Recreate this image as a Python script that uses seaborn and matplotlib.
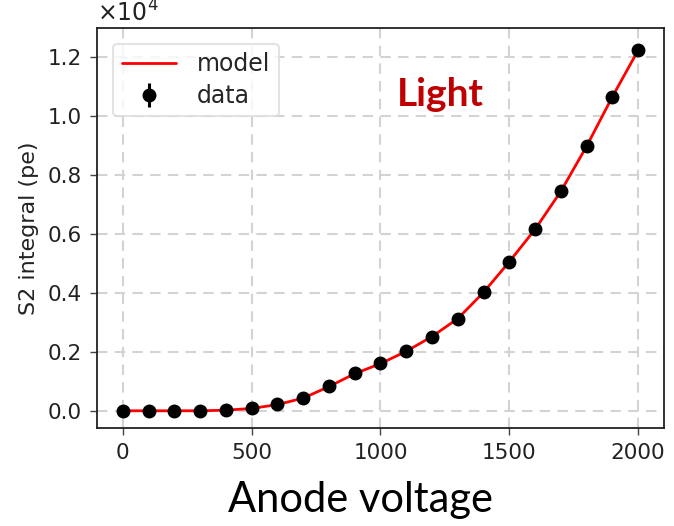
import numpy as np
import pandas as pd
import matplotlib
matplotlib.use("Agg")
import matplotlib.pyplot as plt
import seaborn as sns

# Anode voltage scan (V) and measured S2 integral (pe)
voltage = [0, 100, 200, 300, 400, 500, 600, 700, 800, 900, 1000,
           1100, 1200, 1300, 1400, 1500, 1600, 1700, 1800, 1900, 2000]
s2_data = [0, 5, 0, 0, 10, 90, 220, 440, 830, 1270, 1610,
           2030, 2520, 3120, 4030, 5060, 6160, 7450, 8980, 10670, 12250]
s2_err = [5, 5, 5, 5, 5, 8, 10, 12, 15, 18, 20,
          22, 25, 28, 32, 36, 40, 44, 48, 52, 56]
# Model prediction evaluated at the same voltages
s2_model = [0, 0, 0, 0, 20, 80, 210, 430, 820, 1260, 1600,
            2020, 2520, 3130, 4020, 5060, 6160, 7450, 8980, 10660, 12240]

xticks = [0, 500, 1000, 1500, 2000]
yticks = [0, 2000, 4000, 6000, 8000, 10000, 12000]

df = pd.DataFrame({"voltage": voltage, "data": s2_data,
                   "err": s2_err, "model": s2_model})

sns.set_theme(style="white")
plt.rcParams["font.family"] = ["DejaVu Sans"]

fig = plt.figure(figsize=(6.74, 5.26), dpi=100)
ax = fig.add_axes([0.144, 0.186, 0.841, 0.761])

sns.lineplot(data=df, x="voltage", y="model", ax=ax, color="red",
             linewidth=2.0, label="model", zorder=2)
ax.errorbar(df["voltage"], df["data"], yerr=df["err"], fmt="o", color="black",
            markersize=9, elinewidth=2.2, capsize=0, label="data", zorder=3)

ax.set_xlim(-100, 2100)
ax.set_ylim(-590, 13000)
ax.set_xticks(xticks)
ax.set_yticks(yticks)
ax.set_yticklabels([f"{v/1e4:.1f}" for v in yticks])
ax.text(0.0, 1.004, r"$\times10^{4}$", transform=ax.transAxes,
        fontsize=17, ha="left", va="bottom", color="#222222")

ax.grid(True, linestyle=(0, (5, 3.5)), color="#d3d3d3", linewidth=1.5)
ax.tick_params(axis="both", direction="out", length=5, width=1,
               labelsize=15.5, color="#444444", labelcolor="#222222", pad=6)
ax.tick_params(left=True, bottom=True)
for side in ["left", "bottom", "top", "right"]:
    ax.spines[side].set_color("#222222")
    ax.spines[side].set_linewidth(1.3)

ax.set_xlabel("")
ax.set_ylabel("S2 integral (pe)", fontsize=16, color="#222222")
ax.yaxis.set_label_coords(-0.103, 0.5)

leg = ax.legend(loc="upper left", fontsize=17, frameon=True,
                borderpad=0.35, handlelength=2.3, labelspacing=0.35,
                handletextpad=0.9, bbox_to_anchor=(0.008, 0.99))
leg.get_frame().set_edgecolor("#dddddd")
leg.get_frame().set_linewidth(1.5)

fig.text(0.654, 0.82, "Light", fontsize=28, fontweight="bold",
         color="#c00000", family="Lato", ha="center", va="center")
fig.text(0.535, 0.05, "Anode voltage", fontsize=30, color="black",
         family="Lato", ha="center", va="center")

fig.savefig("out.png", dpi=100)
